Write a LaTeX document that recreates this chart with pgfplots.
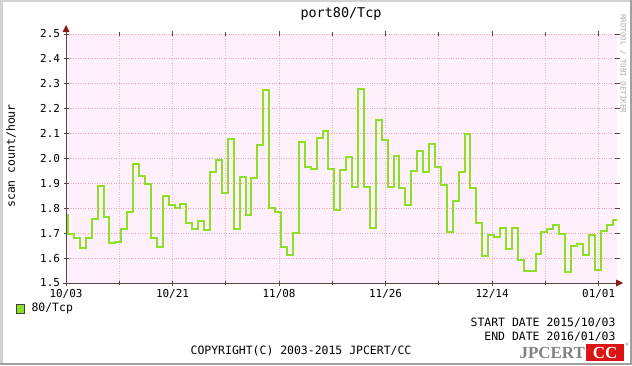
\documentclass[border=0pt]{standalone}
\usepackage{fontspec}
\setmainfont{DejaVu Sans Mono}
\newfontfamily\logofont{Liberation Serif}
\usepackage{pgfplots}
\pgfplotsset{compat=1.18}
\definecolor{canvas}{RGB}{255,240,252}
\definecolor{gline}{RGB}{140,224,40}
\definecolor{ygrid}{RGB}{236,165,178}
\definecolor{xgrid}{RGB}{230,185,205}
\definecolor{axcol}{RGB}{90,70,70}
\definecolor{arrcol}{RGB}{140,25,25}
\definecolor{frlight}{RGB}{210,210,210}
\definecolor{frdark}{RGB}{160,160,160}
\definecolor{logored}{RGB}{220,20,20}
\definecolor{logogray}{RGB}{130,130,130}

\pgfplotstableread{
x y
0 1.775
0.34 1.696
1.34 1.679
2.34 1.639
3.34 1.679
4.34 1.759
5.34 1.889
6.34 1.764
7.34 1.659
8.34 1.663
9.34 1.715
10.34 1.787
11.34 1.979
12.34 1.931
13.34 1.897
14.34 1.679
15.34 1.643
16.34 1.851
17.34 1.813
18.34 1.803
19.34 1.819
20.34 1.739
21.34 1.715
22.34 1.747
23.34 1.711
24.34 1.947
25.34 1.993
26.34 1.863
27.34 2.077
28.34 1.715
29.34 1.927
30.34 1.775
31.34 1.923
32.34 2.055
33.34 2.275
34.34 1.803
35.34 1.787
36.34 1.643
37.34 1.611
38.34 1.699
39.34 2.067
40.34 1.967
41.34 1.959
42.34 2.083
43.34 2.111
44.34 1.959
45.34 1.795
46.34 1.955
47.34 2.007
48.34 1.887
49.34 2.279
50.34 1.887
51.34 1.719
52.34 2.155
53.34 2.075
54.34 1.887
55.34 2.011
56.34 1.883
57.34 1.815
58.34 1.951
59.34 2.031
60.34 1.947
61.34 2.059
62.34 1.967
63.34 1.895
64.34 1.703
65.34 1.831
66.34 1.947
67.34 2.099
68.34 1.883
69.34 1.739
70.34 1.607
71.34 1.691
72.34 1.683
73.34 1.719
74.34 1.635
75.34 1.719
76.34 1.591
77.34 1.547
78.34 1.547
79.34 1.615
80.34 1.703
81.34 1.715
82.34 1.731
83.34 1.695
84.34 1.543
85.34 1.647
86.34 1.655
87.34 1.611
88.34 1.691
89.34 1.551
90.34 1.707
91.34 1.731
92.34 1.755
93.10 1.755
}\datatable

\begin{document}
\begin{tikzpicture}[x=1bp,y=1bp]
\fill[white] (0,0) rectangle (632,365);
\useasboundingbox (0,0) rectangle (632,365);
% frame
\fill[frlight] (0,0) rectangle (2.5,365);
\fill[frlight] (0,362.5) rectangle (632,365);
\fill[frdark] (629.5,0) rectangle (632,365);
\fill[frdark] (0,0) rectangle (632,2.5);

\begin{axis}[
  at={(66bp,82bp)}, anchor=south west,
  scale only axis, width=551bp, height=249bp,
  xmin=0, xmax=93.1, ymin=1.5, ymax=2.5,
  axis background/.style={fill=canvas},
  axis line style={draw=none},
  xtick={0,18,36,54,72,90},
  xticklabels={10/03,10/21,11/08,11/26,12/14,01/01},
  minor xtick={9,27,45,63,81},
  ytick={1.5,1.6,1.7,1.8,1.9,2.0,2.1,2.2,2.3,2.4,2.5},
  yticklabels={1.5,1.6,1.7,1.8,1.9,2.0,2.1,2.2,2.3,2.4,2.5},
  grid=both,
  major x grid style={xgrid, dotted, line width=0.8bp},
  minor x grid style={xgrid, dotted, line width=0.8bp},
  major y grid style={ygrid, dotted, line width=0.8bp},
  tick align=center,
  major tick length=5bp, minor tick length=4bp,
  tick style={axcol, line width=0.8bp},
  ticklabel style={font=\fontsize{11}{13}\selectfont},
  yticklabel style={anchor=east, xshift=0bp},
  xticklabel style={anchor=north, yshift=0bp},
  clip=false,
]
\addplot[const plot, gline, line width=2bp, line join=miter] table[x=x,y=y] {\datatable};
\end{axis}

% axis lines with arrows
\draw[axcol, line width=1bp] (63,82) -- (618,82);
\fill[arrcol] (623,82) -- (616,85.5) -- (616,78.5) -- cycle;
\draw[axcol, line width=1bp] (66,79) -- (66,334);
\fill[arrcol] (66,340) -- (62.5,333) -- (69.5,333) -- cycle;

% title
\node[font=\fontsize{13.5}{15}\selectfont] at (341,351) {port80/Tcp};
% y label
\node[rotate=90, font=\fontsize{11.5}{13}\selectfont] at (11,209) {scan count/hour};
% side text
\node[rotate=-90, anchor=west, inner sep=0pt, font=\fontsize{7.5}{8}\selectfont, text=gray!65] at (623,351) {RRDTOOL / TOBI OETIKER};

% legend
\filldraw[fill=gline, draw=black!75, line width=0.8bp] (16,52) rectangle (24,61);
\node[anchor=west, font=\fontsize{11.5}{13}\selectfont] at (28,56.5) {80/Tcp};

% dates
\node[anchor=east, font=\fontsize{11.5}{13}\selectfont] at (619,42) {START DATE 2015/10/03};
\node[anchor=east, font=\fontsize{11.5}{13}\selectfont] at (619,28) {END DATE 2016/01/03};
\node[font=\fontsize{11.5}{13}\selectfont] at (301,14) {COPYRIGHT(C) 2003-2015 JPCERT/CC};

% logo
\node[anchor=east, inner sep=0pt, font=\logofont\bfseries\fontsize{17}{17}\selectfont, text=logogray] at (585,12) {JPCERT};
\fill[logored] (586,4) rectangle (624,21);
\node[inner sep=0pt, font=\logofont\bfseries\fontsize{17}{17}\selectfont, text=white] at (605,12) {CC};
\node[inner sep=0pt, font=\fontsize{5}{5}\selectfont, text=logogray] at (627,20) {®};
\end{tikzpicture}
\end{document}
